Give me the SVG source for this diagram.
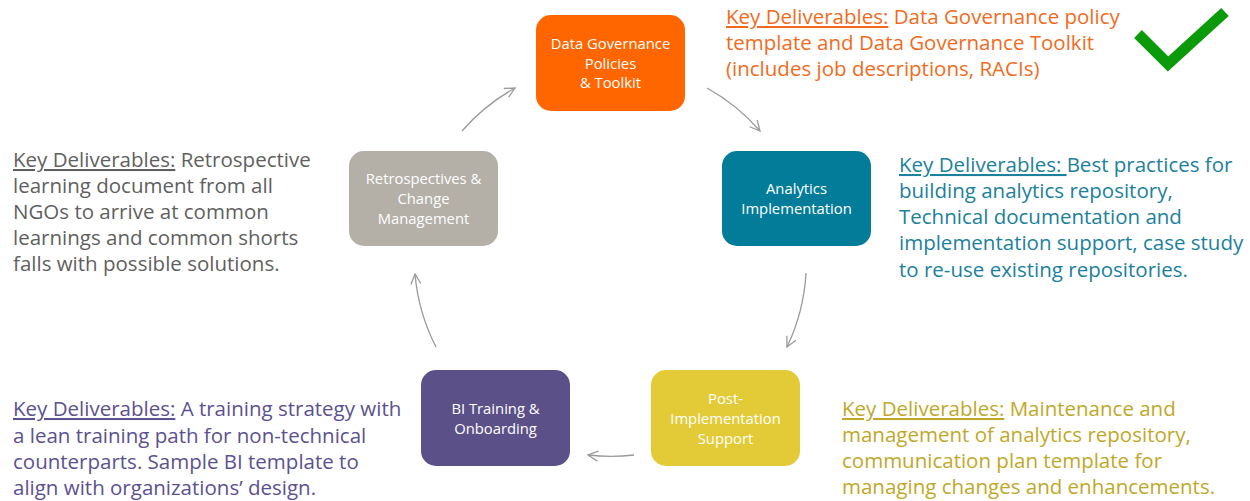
<svg xmlns="http://www.w3.org/2000/svg" width="1250" height="501" viewBox="0 0 1250 501">
  <defs>
    <marker id="arrow" viewBox="0 0 12 12" refX="11" refY="6" markerWidth="12" markerHeight="12" markerUnits="userSpaceOnUse" orient="auto">
      <path d="M1,1 L11,6 L1,11" fill="none" stroke="#9a9a9a" stroke-width="1.3"/>
    </marker>
    <style>
      .box { stroke: none; }
      .lbl { font-family: "Open Sans", "Noto Sans", sans-serif; font-size: 14.8px; fill: #ffffff; text-anchor: middle; }
      .note { font-family: "Open Sans", "Noto Sans", sans-serif; font-size: 20.5px; }
      .u { text-decoration: underline; }
      .conn { fill: none; stroke: #9a9a9a; stroke-width: 1.3; marker-end: url(#arrow); }
    </style>
  </defs>
  <rect width="1250" height="501" fill="#ffffff"/>

  <!-- cycle connectors: arcs on a circle centred at (611,260), r=197 -->
  <g id="connectors">
    <path class="conn" d="M707,88 A197,197 0 0 1 760,131"/>
    <path class="conn" d="M806,273 A197,197 0 0 1 787,347"/>
    <path class="conn" d="M634,455 A197,197 0 0 1 588,455"/>
    <path class="conn" d="M436,347 A197,197 0 0 1 415,274"/>
    <path class="conn" d="M462,131 A197,197 0 0 1 515,88"/>
  </g>

  <g id="node-governance">
    <rect class="box" x="536" y="15" width="149" height="96" rx="15" fill="#ff6600"/>
    <text class="lbl" x="610.5" y="49">Data Governance</text>
    <text class="lbl" x="610.5" y="69">Policies</text>
    <text class="lbl" x="610.5" y="88">&amp; Toolkit</text>
  </g>

  <g id="node-analytics">
    <rect class="box" x="722" y="151" width="149" height="95" rx="15" fill="#037c99"/>
    <text class="lbl" x="796.5" y="194">Analytics</text>
    <text class="lbl" x="796.5" y="214">Implementation</text>
  </g>

  <g id="node-support">
    <rect class="box" x="651" y="370" width="149" height="96" rx="15" fill="#e2cb36"/>
    <text class="lbl" x="725.5" y="404">Post-</text>
    <text class="lbl" x="725.5" y="424">Implementation</text>
    <text class="lbl" x="725.5" y="444">Support</text>
  </g>

  <g id="node-training">
    <rect class="box" x="421" y="370" width="149" height="96" rx="15" fill="#5b5088"/>
    <text class="lbl" x="495.5" y="414">BI Training &amp;</text>
    <text class="lbl" x="495.5" y="434">Onboarding</text>
  </g>

  <g id="node-retro">
    <rect class="box" x="349" y="151" width="149" height="95" rx="15" fill="#b4b0a8"/>
    <text class="lbl" x="423.5" y="184">Retrospectives &amp;</text>
    <text class="lbl" x="423.5" y="204">Change</text>
    <text class="lbl" x="423.5" y="224">Management</text>
  </g>

  <!-- deliverable notes -->
  <g id="note-governance" class="note" fill="#f26b1d">
    <text x="726" y="24"><tspan class="u">Key Deliverables:</tspan> Data Governance policy</text>
    <text x="726" y="50">template and Data Governance Toolkit</text>
    <text x="726" y="76">(includes job descriptions, RACIs)</text>
  </g>

  <g id="note-analytics" class="note" fill="#1b819c">
    <text x="899" y="172"><tspan class="u">Key Deliverables: </tspan>Best practices for</text>
    <text x="899" y="198">building analytics repository,</text>
    <text x="899" y="224">Technical documentation and</text>
    <text x="899" y="250">implementation support, case study</text>
    <text x="899" y="277">to re-use existing repositories.</text>
  </g>

  <g id="note-support" class="note" fill="#bfa829">
    <text x="842" y="416"><tspan class="u">Key Deliverables:</tspan> Maintenance and</text>
    <text x="842" y="442">management of analytics repository,</text>
    <text x="842" y="468">communication plan template for</text>
    <text x="842" y="494">managing changes and enhancements.</text>
  </g>

  <g id="note-training" class="note" fill="#5b5190">
    <text x="13" y="416"><tspan class="u">Key Deliverables:</tspan> A training strategy with</text>
    <text x="13" y="443">a lean training path for non-technical</text>
    <text x="13" y="469">counterparts. Sample BI template to</text>
    <text x="13" y="495">align with organizations’ design.</text>
  </g>

  <g id="note-retro" class="note" fill="#5f5f5f">
    <text x="13" y="167"><tspan class="u">Key Deliverables:</tspan> Retrospective</text>
    <text x="13" y="193">learning document from all</text>
    <text x="13" y="219">NGOs to arrive at common</text>
    <text x="13" y="245">learnings and common shorts</text>
    <text x="13" y="271">falls with possible solutions.</text>
  </g>

  <!-- check mark -->
  <g id="checkmark">
    <polyline points="1138,34 1168,64 1225,12" fill="none" stroke="#0a9a0a" stroke-width="11"/>
  </g>
</svg>
